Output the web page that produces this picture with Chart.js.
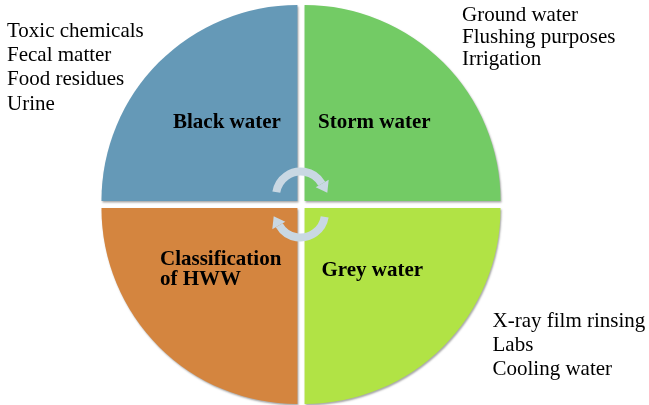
<!DOCTYPE html>
<html lang="en">
<head>
  <meta charset="UTF-8">
  <title>Classification of HWW</title>
  <script src="https://cdn.jsdelivr.net/npm/chart.js"></script>
  <style>
    body {
      margin: 0;
      background: #fff;
    }
    .wrap {
      position: relative;
      width: 649px;
      height: 405px;
      overflow: hidden;
    }
    .txt {
      position: absolute;
      font-family: "Liberation Serif", "Times New Roman", serif;
      font-size: 21px;
      color: #000;
      white-space: nowrap;
    }
    .lbl {
      font-weight: bold;
      line-height: 20px;
    }
  </style>
</head>
<body>
<div class="wrap" id="wrap">
  <canvas id="chart" width="649" height="405"></canvas>
</div>

<script>
  // quadrants, clockwise from the top right
  const categories = ['Storm water', 'Grey water', 'Classification\nof HWW', 'Black water'];
  const shares = [1, 1, 1, 1];
  const colors = ['#73cb65', '#b1e345', '#d4853f', '#6599b7'];

  // side notes
  const blackNotes = ['Toxic chemicals', 'Fecal matter', 'Food residues', 'Urine'];
  const stormNotes = ['Ground water', 'Flushing purposes', 'Irrigation'];
  const greyNotes = ['X-ray film rinsing', 'Labs', 'Cooling water'];

  // where the text blocks sit (left, top, line height)
  const noteBoxes = [
    { lines: blackNotes, left: 7, top: 17.5, lh: 24.4 },
    { lines: stormNotes, left: 462, top: 2.5, lh: 22.2 },
    { lines: greyNotes, left: 492.5, top: 308, lh: 24 }
  ];
  const labelPos = [
    { left: 318, top: 111 },   // Storm water
    { left: 321.5, top: 258.5 }, // Grey water
    { left: 160, top: 248 },   // Classification of HWW
    { left: 173, top: 111 }    // Black water
  ];

  const wrap = document.getElementById('wrap');
  noteBoxes.forEach(b => {
    const d = document.createElement('div');
    d.className = 'txt';
    d.style.left = b.left + 'px';
    d.style.top = b.top + 'px';
    d.style.lineHeight = b.lh + 'px';
    d.innerHTML = b.lines.join('<br>');
    wrap.appendChild(d);
  });
  categories.forEach((c, i) => {
    const d = document.createElement('div');
    d.className = 'txt lbl';
    d.style.left = labelPos[i].left + 'px';
    d.style.top = labelPos[i].top + 'px';
    d.innerHTML = c.split('\n').join('<br>');
    wrap.appendChild(d);
  });

  // soft drop shadow under the quadrants
  const shadowPlugin = {
    id: 'shadow',
    beforeDatasetsDraw(chart) {
      const ctx = chart.ctx;
      ctx.save();
      ctx.shadowColor = 'rgba(0,0,0,0.35)';
      ctx.shadowBlur = 2;
      ctx.shadowOffsetX = 1;
      ctx.shadowOffsetY = 1.5;
    },
    afterDatasetsDraw(chart) {
      chart.ctx.restore();
    }
  };

  // the two curved arrows in the middle
  function drawArrow(ctx, cx, cy, rot) {
    const r = 24.5, w = 8;
    const a0 = Math.PI + 0.16, a1 = 2 * Math.PI - 0.52;
    ctx.save();
    ctx.translate(cx, cy);
    ctx.rotate(rot);
    ctx.strokeStyle = '#c9d8e3';
    ctx.fillStyle = '#c9d8e3';
    ctx.lineWidth = w;
    ctx.beginPath();
    ctx.arc(0, 0, r, a0, a1);
    ctx.stroke();
    // head
    const bx = Math.cos(a1), by = Math.sin(a1);
    const tip = a1 + 0.4;
    ctx.beginPath();
    ctx.moveTo((r + 8) * bx, (r + 8) * by);
    ctx.lineTo((r - 7) * bx, (r - 7) * by);
    ctx.lineTo((r + 2.5) * Math.cos(tip), (r + 2.5) * Math.sin(tip));
    ctx.closePath();
    ctx.fill();
    ctx.restore();
  }

  const arrowPlugin = {
    id: 'arrows',
    afterDraw(chart) {
      const arc = chart.getDatasetMeta(0).data[0];
      const cx = arc.x - 0.5, cy = arc.y;
      drawArrow(chart.ctx, cx, cy - 8.5, 0);
      drawArrow(chart.ctx, cx, cy + 8.5, Math.PI);
    }
  };

  new Chart(document.getElementById('chart'), {
    type: 'pie',
    data: {
      labels: categories,
      datasets: [{
        data: shares,
        backgroundColor: colors,
        borderWidth: 0,
        offset: 20
      }]
    },
    options: {
      responsive: false,
      animation: false,
      events: [],
      radius: 196,
      layout: { padding: { left: 0, right: 47, top: 4, bottom: 0 } },
      plugins: {
        legend: { display: false },
        tooltip: { enabled: false }
      }
    },
    plugins: [shadowPlugin, arrowPlugin]
  });
</script>
</body>
</html>
